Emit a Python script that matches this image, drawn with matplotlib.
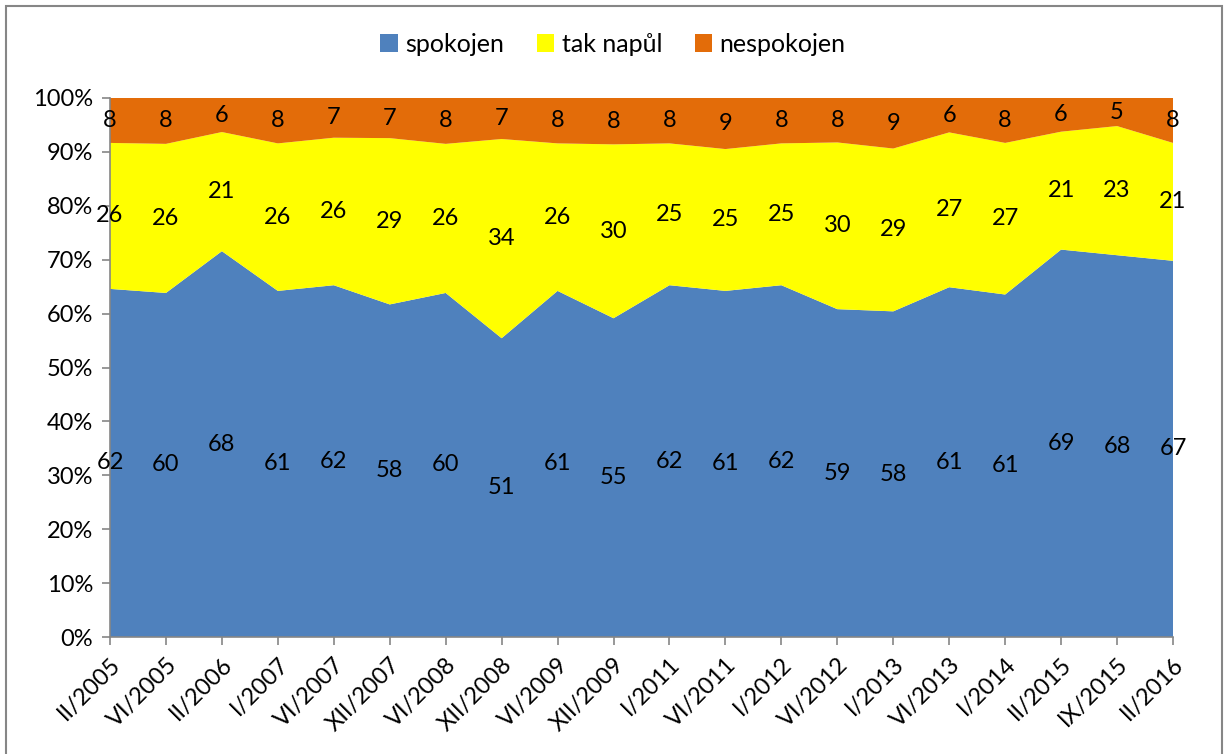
import numpy as np
import matplotlib
matplotlib.use("Agg")
import matplotlib.pyplot as plt
from matplotlib.patches import Rectangle

plt.rcParams['font.family'] = ['Lato', 'DejaVu Sans']

# období šetření
obdobi = ['II/2005', 'VI/2005', 'II/2006', 'I/2007', 'VI/2007', 'XII/2007', 'VI/2008',
          'XII/2008', 'VI/2009', 'XII/2009', 'I/2011', 'VI/2011', 'I/2012', 'VI/2012',
          'I/2013', 'VI/2013', 'I/2014', 'II/2015', 'IX/2015', 'II/2016']
spokojen = [62, 60, 68, 61, 62, 58, 60, 51, 61, 55, 62, 61, 62, 59, 58, 61, 61, 69, 68, 67]
tak_napul = [26, 26, 21, 26, 26, 29, 26, 34, 26, 30, 25, 25, 25, 30, 29, 27, 27, 21, 23, 21]
nespokojen = [8, 8, 6, 8, 7, 7, 8, 7, 8, 8, 8, 9, 8, 8, 9, 6, 8, 6, 5, 8]

nazvy = ['spokojen', 'tak napůl', 'nespokojen']
barvy = ['#4F81BD', '#FFFF00', '#E36C09']

data = np.array([spokojen, tak_napul, nespokojen], dtype=float)
podil = data / data.sum(axis=0) * 100
x = np.arange(len(obdobi))

fig = plt.figure(figsize=(12.26, 7.54), dpi=100)
ax = fig.add_axes([110 / 1226, 1 - 637 / 754, (1173 - 110) / 1226, (637 - 98) / 754])

ax.stackplot(x, podil, colors=barvy, labels=nazvy, linewidth=0)

# popisky hodnot uprostřed každé vrstvy
spodek = np.zeros(len(obdobi))
for i in range(3):
    stred = spodek + podil[i] / 2
    for j in range(len(obdobi)):
        ax.text(x[j], stred[j], str(int(data[i][j])), ha='center', va='center',
                fontsize=17, color='black', clip_on=False)
    spodek = spodek + podil[i]

ax.set_xlim(0, len(obdobi) - 1)
ax.set_ylim(0, 100)
ax.set_yticks(range(0, 101, 10))
ax.set_yticklabels([f'{v}%' for v in range(0, 101, 10)], fontsize=17)
ax.set_xticks(x)
ax.set_xticklabels(obdobi, rotation=45, ha='right', rotation_mode='anchor', fontsize=17)
ax.tick_params(axis='both', direction='out', color='#868686', length=6, width=1.2, pad=6)
for s in ['top', 'right']:
    ax.spines[s].set_visible(False)
for s in ['left', 'bottom']:
    ax.spines[s].set_color('#868686')
    ax.spines[s].set_linewidth(1.2)

ax.legend(loc='center', bbox_to_anchor=(0.5, 1 - 44 / 754), bbox_transform=fig.transFigure,
          ncol=3, frameon=False, fontsize=18, handlelength=0.7, handleheight=0.7,
          handletextpad=0.3, columnspacing=1.3)

# rámeček kolem grafu
fig.patches.append(Rectangle((6 / 1226, -0.01), 1216 / 1226, 1 - 6 / 754 + 0.01,
                             transform=fig.transFigure, fill=False,
                             edgecolor='#868686', linewidth=1.5))

fig.savefig('out.png', dpi=100)
